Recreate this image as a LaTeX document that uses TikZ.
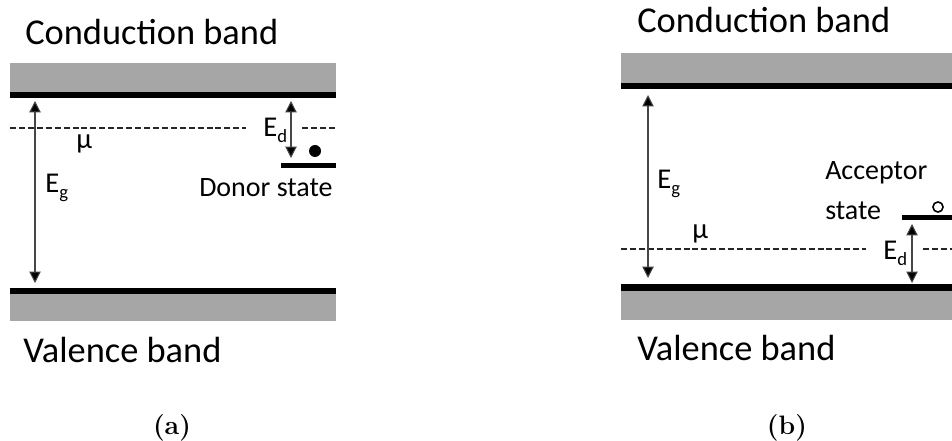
\documentclass[tikz,border=0pt]{standalone}
\usepackage{fontspec}
\newfontfamily\calib{Carlito}
\usetikzlibrary{arrows.meta}
\definecolor{bandgray}{RGB}{166,166,166}
\definecolor{arrowgray}{RGB}{70,70,70}
\tikzset{
  band/.style={fill=bandgray, draw=none},
  bandedge/.style={fill=black, draw=none},
  fermi/.style={line width=0.9pt, dash pattern=on 4.5pt off 2.2pt, black!85},
  gaparrow/.style={line width=0.8pt, draw=arrowgray,
    {Triangle[width=8.5pt,length=8.5pt,fill=black]}-{Triangle[width=8.5pt,length=8.5pt,fill=black]}},
  level/.style={line width=3.75pt, black},
  bigtext/.style={font=\calib\fontsize{27.3}{32}\selectfont, anchor=base west, inner sep=0pt},
  labeltext/.style={font=\calib\fontsize{21}{25}\selectfont, anchor=base west, inner sep=0pt},
  symtext/.style={font=\calib\fontsize{21.5}{24}\selectfont, anchor=base west, inner sep=0pt},
  captext/.style={font=\bfseries\fontsize{20}{24}\selectfont, anchor=base, inner sep=0pt}
}
\newcommand{\sbs}[1]{\raisebox{-4.5pt}{\fontsize{14}{14}\selectfont #1}}
\begin{document}
\begin{tikzpicture}[x=0.75pt, y=-0.75pt]
\useasboundingbox (0,0) rectangle (952,441);

% ---------- (a) n-type ----------
\fill[band] (10,63) rectangle (336,92);
\fill[bandedge] (10,92) rectangle (336,98);
\fill[bandedge] (10,288) rectangle (336,294);
\fill[band] (10,294) rectangle (336,321);

\node[bigtext] (cbA) at (25,45) {Conduction band};
\node[bigtext] (vbA) at (23,362) {Valence band};

\draw[fermi] (10,128) -- (246,128);
\draw[fermi] (302,128) -- (336,128);
\node[symtext] (muA) at (76,149) {μ};

\coordinate (egAtop) at (35,101);
\coordinate (egAbot) at (35,283);
\draw[gaparrow] (egAtop) -- (egAbot);
\node[symtext] (egA) at (45,193) {E\sbs{g}};

\coordinate (edAtop) at (291,101);
\coordinate (edAbot) at (291,158);
\draw[gaparrow] (edAtop) -- (edAbot);
\node[symtext] (edA) at (263,137) {E\sbs{d}};

\coordinate (donL) at (281,166);
\coordinate (donR) at (336,166);
\draw[level] (donL) -- (donR);
\fill[black] (315,151) circle (4.5pt);
\node[labeltext] (donor) at (199,197) {Donor state};

\node[captext] (capA) at (172,434) {(a)};

% ---------- (b) p-type ----------
\fill[band] (621,53) rectangle (952,83);
\fill[bandedge] (621,83) rectangle (952,89);
\fill[bandedge] (621,284) rectangle (952,291);
\fill[band] (621,291) rectangle (952,320);

\node[bigtext] (cbB) at (637,33) {Conduction band};
\node[bigtext] (vbB) at (637,360) {Valence band};

\draw[fermi] (621,249) -- (866,249);
\draw[fermi] (923,249) -- (952,249);
\node[symtext] (muB) at (692,239) {μ};

\coordinate (egBtop) at (648,95);
\coordinate (egBbot) at (648,278);
\draw[gaparrow] (egBtop) -- (egBbot);
\node[symtext] (egB) at (657,189) {E\sbs{g}};

\coordinate (accL) at (902,218);
\coordinate (accR) at (952,218);
\draw[level] (accL) -- (accR);
\draw[line width=1.2pt] (938,207) circle (3.8pt);
\node[labeltext] (accA) at (825,180) {Acceptor};
\node[labeltext] (accB) at (825,220) {state};

\coordinate (edBtop) at (912,224);
\coordinate (edBbot) at (912,283);
\draw[gaparrow] (edBtop) -- (edBbot);
\node[symtext] (edB) at (883,260) {E\sbs{d}};

\node[captext] (capB) at (787,434) {(b)};
\end{tikzpicture}
\end{document}
